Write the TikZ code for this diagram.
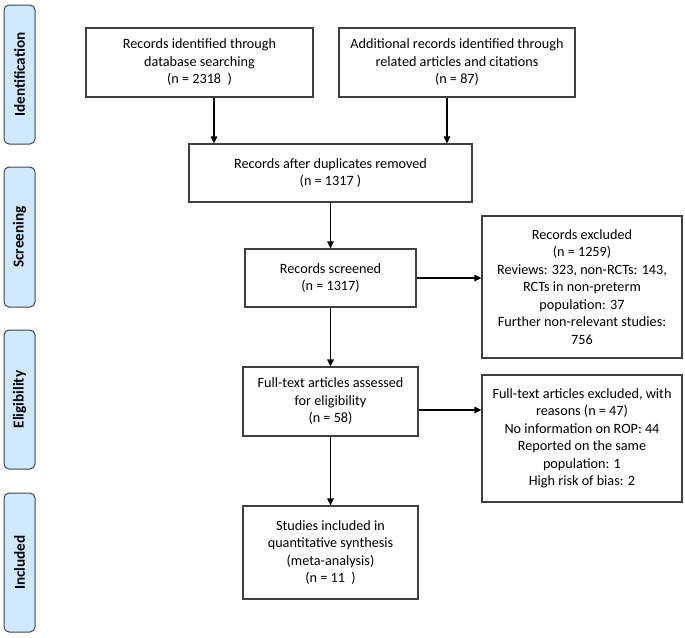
\documentclass[tikz,border=0pt]{standalone}
\usepackage{fontspec}
\setmainfont{Carlito}
\usetikzlibrary{arrows.meta}
\definecolor{sidefill}{RGB}{207,232,252}
\definecolor{sideline}{RGB}{60,70,80}
\definecolor{boxline}{RGB}{64,64,64}
\tikzset{
  box/.style={draw=boxline, line width=1.2pt, inner sep=0pt, align=center,
    font=\fontsize{14.2}{17.5}\selectfont},
  side/.style={draw=sideline, fill=sidefill, line width=1pt, rounded corners=5pt,
    inner sep=0pt, rotate=90, minimum height=31pt,
    font=\fontsize{15.2}{17}\selectfont\bfseries},
  arr/.style={draw=black, line width=1.2pt, -{Triangle[length=7pt,width=6.5pt]}}
}
\begin{document}
\begin{tikzpicture}[x=1pt,y=-1pt]
\useasboundingbox (0,0) rectangle (685,637);
% side labels
\node[side, minimum width=139pt] (s1) at (19.5,74.5) {Identification};
\node[side, minimum width=140pt] (s2) at (19.5,237) {Screening};
\node[side, minimum width=139pt] (s3) at (19.5,399.5) {Eligibility};
\node[side, minimum width=139pt] (s4) at (19.5,562.5) {Included};
% boxes
\node[box, minimum width=227pt, minimum height=69pt] (b1) at (199.5,62.5)
  {Records identified through\\database searching\\(n = 2318~ )};
\node[box, minimum width=236pt, minimum height=69pt] (b2) at (457,62.5)
  {Additional records identified through\\related articles and citations\\(n = 87)};
\node[box, minimum width=283pt, minimum height=58pt] (b3) at (330.5,173)
  {Records after duplicates removed\\(n = 1317 )};
\node[box, minimum width=171pt, minimum height=58pt] (b4) at (330.5,278)
  {Records screened\\(n = 1317)};
\node[box, minimum width=200pt, minimum height=142pt] (b5) at (582,287)
  {Records excluded\\(n = 1259)\\Reviews: 323, non-RCTs: 143,\\RCTs in non-preterm\\population: 37\\Further non-relevant studies:\\756};
\node[box, minimum width=175pt, minimum height=69pt] (b6) at (330.5,401.5)
  {Full-text articles assessed\\for eligibility\\(n = 58)};
\node[box, minimum width=200pt, minimum height=127pt] (b7) at (582,438.5)
  {Full-text articles excluded, with\\reasons (n = 47)\\No information on ROP: 44\\Reported on the same\\population: 1\\High risk of bias: 2};
\node[box, minimum width=175pt, minimum height=93pt] (b8) at (330.5,552.5)
  {Studies included in\\quantitative synthesis\\(meta-analysis)\\(n = 11~ )};
% arrows
\draw[arr] ([xshift=14.5pt]b1.south) -- ([xshift=14.5pt]b1.south |- b3.north);
\draw[arr] ([xshift=-10pt]b2.south) -- ([xshift=-10pt]b2.south |- b3.north);
\draw[arr] (b3.south) -- (b4.north);
\draw[arr] (b4.east) -- (b4.east -| b5.west);
\draw[arr] (b4.south) -- (b6.north);
\draw[arr] ([yshift=-8.5pt]b6.east) -- ([yshift=-8.5pt]b6.east -| b7.west);
\draw[arr] (b6.south) -- (b8.north);
\end{tikzpicture}
\end{document}
